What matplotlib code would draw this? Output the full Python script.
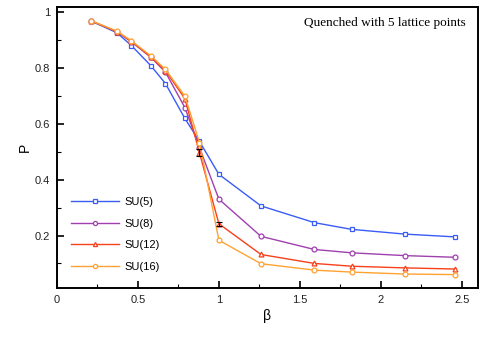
import numpy as np
import matplotlib

matplotlib.use("Agg")
import matplotlib.pyplot as plt
from matplotlib.ticker import MultipleLocator, FuncFormatter

plt.rcParams["font.family"] = ["Liberation Sans", "DejaVu Sans"]

beta = [0.21, 0.37, 0.46, 0.58, 0.67, 0.79, 0.88, 1.0, 1.26, 1.59, 1.82, 2.15, 2.46]
p_su5 = [0.968, 0.926, 0.880, 0.808, 0.744, 0.619, 0.537, 0.419, 0.306, 0.246, 0.222, 0.205, 0.195]
p_su8 = [0.968, 0.930, 0.893, 0.838, 0.785, 0.658, 0.515, 0.330, 0.197, 0.150, 0.138, 0.128, 0.122]
p_su12 = [0.969, 0.930, 0.895, 0.840, 0.790, 0.690, 0.496, 0.242, 0.132, 0.100, 0.090, 0.084, 0.080]
p_su16 = [0.969, 0.932, 0.897, 0.843, 0.795, 0.699, 0.533, 0.183, 0.099, 0.076, 0.069, 0.062, 0.060]
# error bars visible only near the transition
err_beta = [0.88, 1.0]
err_p = [0.496, 0.242]
err_size = [0.012, 0.008]

labels = ["SU(5)", "SU(8)", "SU(12)", "SU(16)"]
colors = ["#3a5cf5", "#a040b0", "#f8401a", "#ffa232"]
markers = ["s", "o", "^", "o"]

fig = plt.figure(figsize=(4.85, 3.46), dpi=100)
ax = fig.add_axes([0.1175, 0.1676, 0.868, 0.812])

series = [p_su5, p_su8, p_su12, p_su16]
for ys, lab, c, m in zip(series, labels, colors, markers):
    ax.plot(beta, ys, color=c, marker=m, markersize=3.5, markerfacecolor="white",
            markeredgecolor=c, markeredgewidth=0.9, linewidth=1.0, label=lab)

ax.errorbar(err_beta, err_p, yerr=err_size, fmt="none", ecolor="black", elinewidth=0.8,
            capsize=2, capthick=0.8)

ax.set_xlim(0, 2.6)
ax.set_ylim(0.012, 1.018)
ax.xaxis.set_major_locator(MultipleLocator(0.5))
ax.xaxis.set_minor_locator(MultipleLocator(0.25))
ax.yaxis.set_major_locator(MultipleLocator(0.2))
ax.yaxis.set_minor_locator(MultipleLocator(0.1))
fmt = FuncFormatter(lambda v, p: ("%g" % round(v, 2)))
ax.xaxis.set_major_formatter(fmt)
ax.yaxis.set_major_formatter(fmt)
ax.tick_params(which="major", direction="in", length=5, width=1.2, labelsize=8,
               labelcolor="#222222", top=False, right=False, pad=5)
ax.tick_params(which="minor", direction="in", length=3, width=0.8, top=False, right=False)
for s in ax.spines.values():
    s.set_linewidth(1.4)

ax.set_xlabel("β", fontsize=10, labelpad=3)
ax.set_ylabel("P", fontsize=10, labelpad=2)

ax.text(0.97, 0.945, "Quenched with 5 lattice points", transform=ax.transAxes,
        ha="right", va="center", fontsize=9.5, family="Liberation Serif")

ax.legend(loc="upper left", bbox_to_anchor=(0.01, 0.36), frameon=False, fontsize=8,
          handlelength=4.3, labelspacing=1.05, handletextpad=0.5, markerscale=0.85)

fig.savefig("out.png", dpi=100)
